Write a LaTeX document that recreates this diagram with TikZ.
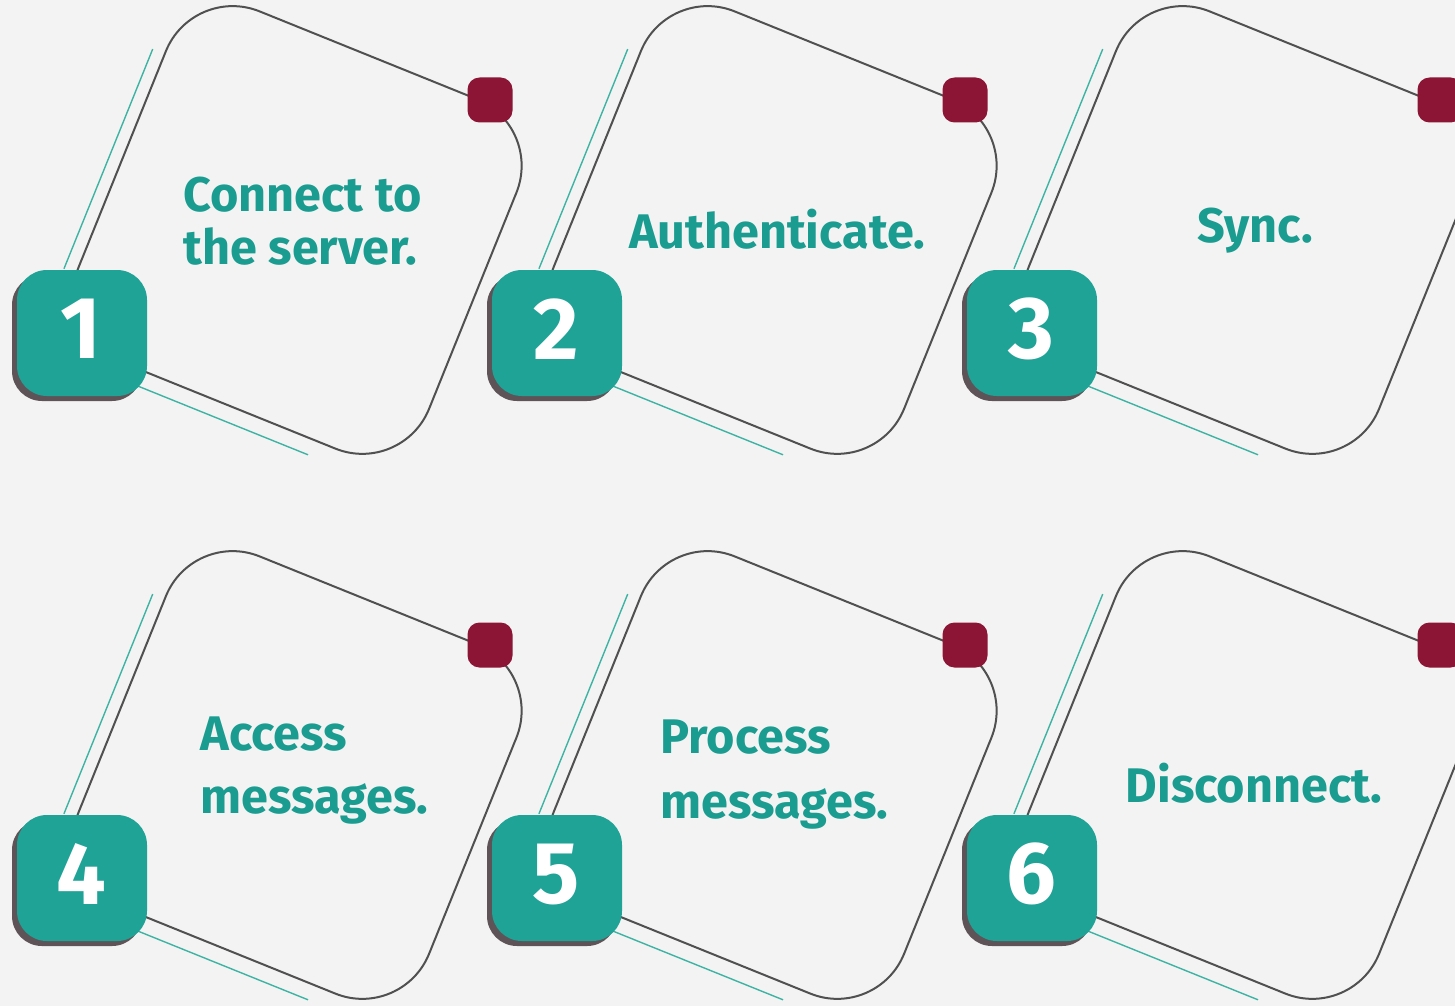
\documentclass[tikz,border=0pt]{standalone}
\usepackage{fontspec}
\setmainfont{Fira Sans}
\definecolor{bgc}{HTML}{F3F3F3}
\definecolor{tealtxt}{HTML}{1A9C90}
\definecolor{tealbox}{HTML}{1FA397}
\definecolor{tealline}{HTML}{3DB3A3}
\definecolor{outl}{HTML}{505050}
\definecolor{maroonc}{HTML}{8C1434}
\definecolor{shadowc}{HTML}{5E5458}
\newcommand\mypanel[3]{%
  \begin{scope}[shift={(#1,#2)}]
    \begin{scope}[shift={(296,231)}, rotate=-22]
      \draw[accent] (-201,-115) -- (-201,122);
      \draw[accent] (-95,203) -- (95,203);
      \draw[outline] (-188,-190) -- (190,-190) -- (190,187) -- (-188,187) -- cycle;
    \end{scope}
    \fill[redsq] (467.5,77.5) rectangle (512.5,122.5);
    \fill[numshadow] (12,275) rectangle (142,401);
    \fill[numbox] (17,270) rectangle (147,396);
    \node[numtxt] (n#3) at (81,329) {#3};
  \end{scope}}
\begin{document}
\begin{tikzpicture}[x=0.5pt,y=-0.5pt,
  outline/.style={draw=outl, line width=1pt, rounded corners=36pt},
  accent/.style={draw=tealline, line width=0.7pt},
  redsq/.style={fill=maroonc, rounded corners=6pt},
  numbox/.style={fill=tealbox, rounded corners=15pt},
  numshadow/.style={fill=shadowc, rounded corners=15pt},
  numtxt/.style={text=white, font=\fontsize{44}{44}\selectfont\bfseries, inner sep=0},
  steptxt/.style={text=tealtxt, font=\fontsize{24.3}{24.3}\selectfont\bfseries, inner sep=0},
]
\fill[bgc] (0,0) rectangle (1455,1006);
\useasboundingbox (0,0) rectangle (1455,1006);
\clip (0,0) rectangle (1455,1006);
\mypanel{0}{0}{1}
\mypanel{475}{0}{2}
\mypanel{950}{0}{3}
\mypanel{0}{545}{4}
\mypanel{475}{545}{5}
\mypanel{950}{545}{6}
\node[steptxt, anchor=base west] (t1a) at (183,211) {Connect to};
\node[steptxt, anchor=base west] (t1b) at (183,264) {the server.};
\node[steptxt, anchor=base] (t2) at (777,248) {Authenticate.};
\node[steptxt, anchor=base] (t3) at (1255,242) {Sync.};
\node[steptxt, anchor=base west] (t4a) at (200,750) {Access};
\node[steptxt, anchor=base west] (t4b) at (200,813) {messages.};
\node[steptxt, anchor=base west] (t5a) at (660,753) {Process};
\node[steptxt, anchor=base west] (t5b) at (660,818) {messages.};
\node[steptxt, anchor=base] (t6) at (1254,802) {Disconnect.};
\end{tikzpicture}
\end{document}
